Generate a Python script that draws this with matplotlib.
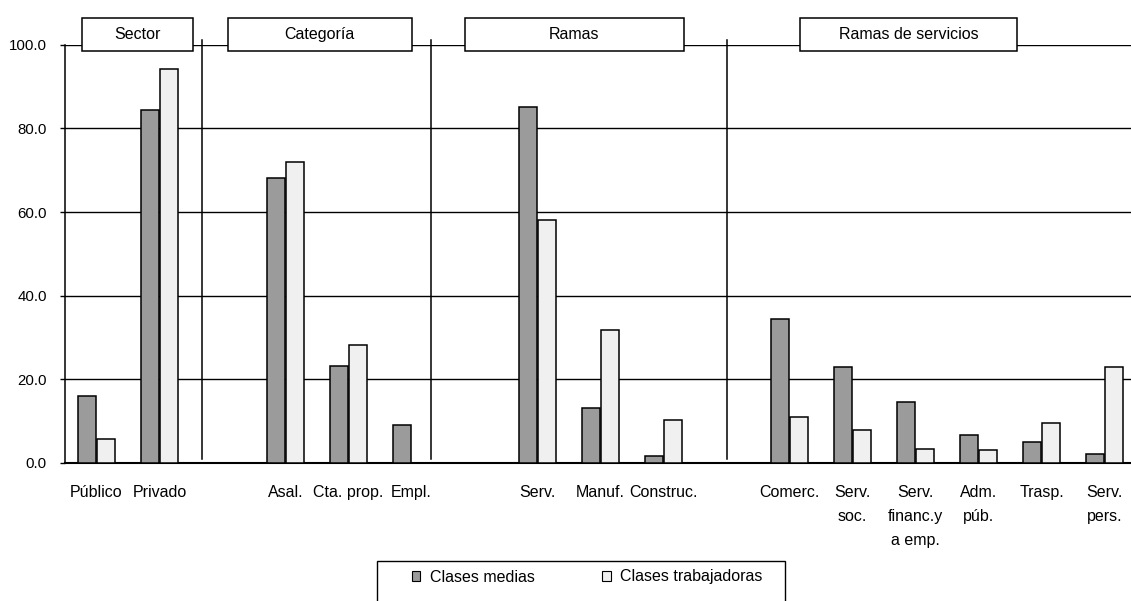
import matplotlib
matplotlib.use("Agg")
import matplotlib.pyplot as plt
from matplotlib.patches import Patch, Rectangle
import numpy as np

plt.rcParams["font.family"] = ["Liberation Sans", "DejaVu Sans"]

# group headers and how many categories each one holds
groups = ["Sector", "Categoría", "Ramas", "Ramas de servicios"]
group_sizes = [2, 3, 3, 6]

labels = [
    "Público", "Privado",
    "Asal.", "Cta. prop.", "Empl.",
    "Serv.", "Manuf.", "Construc.",
    "Comerc.", "Serv.\nsoc.", "Serv.\nfinanc.y\na emp.", "Adm.\npúb.",
    "Trasp.", "Serv.\npers.",
]
clases_medias = [16.0, 84.4, 68.1, 23.1, 9.2, 85.2, 13.2, 1.7,
                 34.4, 23.0, 14.5, 6.6, 5.1, 2.1]
clases_trabajadoras = [5.8, 94.2, 71.9, 28.3, 0.0, 58.1, 31.8, 10.3,
                       11.0, 8.0, 3.4, 3.0, 9.5, 22.9]
yticks = [0, 20, 40, 60, 80, 100]

# slot positions: one empty slot between groups
pos = []
start = 0
for n in group_sizes:
    pos.extend(range(start, start + n))
    start += n + 1
pos = np.array(pos)
n_slots = start - 1

W, H = 1131, 601
fig = plt.figure(figsize=(W / 100, H / 100), dpi=100)
ax = fig.add_axes([65 / W, 1 - 463 / H, 63 * n_slots / W, (463 - 44.7) / H])

bw = 0.295
ax.bar(pos - 0.15, clases_medias, bw, color="#9b9b9b", edgecolor="black",
       linewidth=1.1, zorder=3, label="Clases medias")
ax.bar(pos + 0.15, clases_trabajadoras, bw, color="#f0f0f0", edgecolor="black",
       linewidth=1.1, zorder=3, label="Clases trabajadoras")

ax.set_xlim(-0.5, n_slots - 0.5)
ax.set_ylim(0, 100)
ax.set_yticks(yticks)
ax.set_yticklabels([f"{v:.1f}" for v in yticks], fontsize=10.8)
ax.yaxis.grid(True, color="black", linewidth=1.0, zorder=1)
ax.set_axisbelow(True)
ax.tick_params(axis="y", direction="out", length=3.5, width=1, pad=9.5)

ax.set_xticks(pos)
ax.set_xticklabels(labels, fontsize=11.5)
ax.tick_params(axis="x", length=0, pad=16)
for t in ax.get_xticklabels():
    t.set_linespacing(1.75)

for side in ("top", "right"):
    ax.spines[side].set_visible(False)
ax.spines["left"].set_linewidth(1.1)
ax.spines["bottom"].set_linewidth(1.5)

# vertical separators between the groups
for xs in (1.67, 5.305, 10.0):
    ax.plot([xs, xs], [1.0, 101.2], color="black", lw=1.1,
            clip_on=False, zorder=2)

# header boxes above each group
boxes = [(-0.235, 1.535), (2.087, 5.0), (5.849, 9.325), (11.167, 14.606)]
for name, (x0, x1) in zip(groups, boxes):
    ax.add_patch(Rectangle((x0, 98.4), x1 - x0, 8.0, facecolor="white",
                           edgecolor="black", lw=1.1, clip_on=False, zorder=6))
    ax.text((x0 + x1) / 2, 102.4, name, ha="center", va="center",
            fontsize=11.5, zorder=7, clip_on=False)

# legend frame runs off the bottom edge
fig.patches.append(Rectangle((376.7 / W, -0.05), (785 - 376.7) / W,
                             1 - 560.7 / H + 0.05, transform=fig.transFigure,
                             facecolor="white", edgecolor="black", lw=1.0))
handles = [Patch(facecolor="#9b9b9b", edgecolor="black", lw=0.8),
           Patch(facecolor="#f0f0f0", edgecolor="black", lw=0.8)]
fig.legend(handles, ["Clases medias", "Clases trabajadoras"], ncol=2,
           loc="center left", bbox_to_anchor=(411.7 / W, 1 - 577 / H),
           frameon=False, fontsize=11.5, borderpad=0, borderaxespad=0,
           handlelength=0.55, handleheight=0.55, handletextpad=0.6,
           columnspacing=4.2)

fig.savefig("out.png", dpi=100)
